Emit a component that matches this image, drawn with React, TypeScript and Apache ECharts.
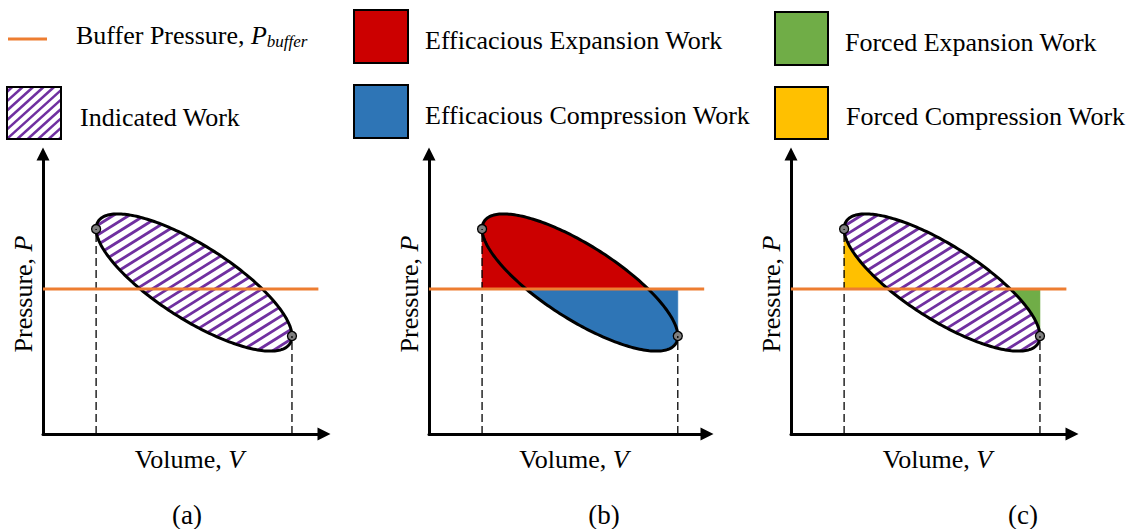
import React, { useEffect, useRef } from 'react';
import * as echarts from 'echarts';

const FONT = '"Liberation Serif", "Times New Roman", Times, serif';
const FS = 26;

// ---------- values (schematic units) ----------
const panelLabels = ['(a)', '(b)', '(c)'];
const volumeAxisMax = [10, 9.9, 10];
const pressureAxisMax = 10;
const volumeRange = [1.89, 8.86]; // V at the two marked state points
const pressureRange = [2.96, 7.86]; // lowest / highest pressure on the loop
const pressureAtVolumeEnds = [7.39, 3.57]; // P at Vmin and at Vmax
const bufferPressure = 5.18;
const bufferLineVolume = [0, 9.8];
const panelFills: string[][] = [[], ['efficaciousExpansion', 'efficaciousCompression'], ['forcedCompression', 'forcedExpansion']];
const panelHatched = [true, false, true];

const legendNames = [
  'Buffer Pressure, ',
  'Indicated Work',
  'Efficacious Expansion Work',
  'Efficacious Compression Work',
  'Forced Expansion Work',
  'Forced Compression Work',
];

const COLORS: Record<string, string> = {
  buffer: '#ED7D31',
  hatch: '#7030A0',
  efficaciousExpansion: '#CC0000',
  efficaciousCompression: '#2E75B6',
  forcedExpansion: '#70AD47',
  forcedCompression: '#FFC000',
  dot: '#7F7F7F',
};

// ---------- layout ----------
const GRID_LEFT = [43, 429, 791];
const GRID_W = [281, 278, 281];
const GRID_TOP = 154;
const GRID_H = 280;
const LABEL_X = [187, 604, 1023];
const LABEL_Y = 515;

// ---------- loop geometry (ellipse through the read extremes) ----------
const Vm = (volumeRange[0] + volumeRange[1]) / 2;
const Va = (volumeRange[1] - volumeRange[0]) / 2;
const Pm = (pressureRange[0] + pressureRange[1]) / 2;
const Pa = (pressureRange[1] - pressureRange[0]) / 2;
const cosPhi = Math.max(-1, Math.min(1, -((pressureAtVolumeEnds[0] - pressureAtVolumeEnds[1]) / 2) / Pa));
const phi = Math.acos(cosPhi);
const loopPoint = (t: number) => [Vm + Va * Math.cos(t), Pm + Pa * Math.cos(t + phi)];
const N = 240;
const loop: number[][] = [];
for (let i = 0; i < N; i++) loop.push(loopPoint((2 * Math.PI * i) / N));
const upperBranch: number[][] = [];
const lowerBranch: number[][] = [];
for (let i = 0; i <= N; i++) {
  upperBranch.push(loopPoint(Math.PI + (Math.PI * i) / N));
  lowerBranch.push(loopPoint((Math.PI * i) / N));
}
const dotMin = loopPoint(Math.PI);
const dotMax = loopPoint(0);

function regionBetween(branch: number[][], above: boolean) {
  const pts = branch.map(([v, p]) => [v, above ? Math.max(p, bufferPressure) : Math.min(p, bufferPressure)]);
  const first = branch[0];
  const last = branch[branch.length - 1];
  pts.push([last[0], bufferPressure], [first[0], bufferPressure]);
  return pts;
}
const regions: Record<string, number[][]> = {
  efficaciousExpansion: regionBetween(upperBranch, true),
  efficaciousCompression: regionBetween(lowerBranch, false),
  forcedCompression: regionBetween(lowerBranch, true),
  forcedExpansion: regionBetween(upperBranch, false),
};

// hatch lines clipped to a convex polygon (pixel space)
function hatch(poly: number[][], angleDeg: number, spacing: number) {
  const a = (angleDeg * Math.PI) / 180;
  const d = [Math.cos(a), -Math.sin(a)];
  const n = [Math.sin(a), Math.cos(a)];
  let minC = Infinity;
  let maxC = -Infinity;
  poly.forEach((p) => {
    const c = p[0] * n[0] + p[1] * n[1];
    minC = Math.min(minC, c);
    maxC = Math.max(maxC, c);
  });
  const segs: number[][] = [];
  for (let c = minC + spacing / 2; c < maxC; c += spacing) {
    const ss: number[] = [];
    for (let i = 0; i < poly.length; i++) {
      const p = poly[i];
      const q = poly[(i + 1) % poly.length];
      const cp = p[0] * n[0] + p[1] * n[1] - c;
      const cq = q[0] * n[0] + q[1] * n[1] - c;
      if ((cp <= 0 && cq > 0) || (cp > 0 && cq <= 0)) {
        const f = cp / (cp - cq);
        const x = p[0] + f * (q[0] - p[0]);
        const y = p[1] + f * (q[1] - p[1]);
        ss.push(x * d[0] + y * d[1]);
      }
    }
    if (ss.length >= 2) {
      const s0 = Math.min(...ss);
      const s1 = Math.max(...ss);
      segs.push([c * n[0] + s0 * d[0], c * n[1] + s0 * d[1], c * n[0] + s1 * d[0], c * n[1] + s1 * d[1]]);
    }
  }
  return segs;
}

function textEl(x: number, y: number, text: string, align: string, extra: any = {}, size: number = FS) {
  return {
    type: 'text',
    x,
    y,
    silent: true,
    style: {
      text,
      fill: '#000',
      font: `${size}px ${FONT}`,
      textAlign: align,
      textVerticalAlign: 'middle',
      align,
      verticalAlign: 'middle',
      ...extra,
    },
  };
}

function buildOption() {
  const grid = GRID_LEFT.map((l, i) => ({ left: l, top: GRID_TOP, width: GRID_W[i], height: GRID_H }));
  const nameStyle = (pad: number[]) => ({
    color: '#000',
    fontFamily: FONT,
    fontSize: FS,
    padding: pad,
    rich: { i: { fontStyle: 'italic', fontFamily: FONT, fontSize: FS, color: '#000' } },
  });
  const axisLine = {
    show: true,
    onZero: false,
    symbol: ['none', 'triangle'],
    symbolSize: [13, 13],
    lineStyle: { color: '#000', width: 3 },
  };
  const xAxis = GRID_LEFT.map((_, i) => ({
    gridIndex: i,
    type: 'value',
    min: 0,
    max: volumeAxisMax[i],
    axisLine,
    axisTick: { show: false },
    axisLabel: { show: false },
    splitLine: { show: false },
    name: 'Volume, {i|V}',
    nameLocation: 'middle',
    nameGap: 12,
    nameTextStyle: nameStyle([0, 0, 0, 12]),
  }));
  const yAxis = GRID_LEFT.map((_, i) => ({
    gridIndex: i,
    type: 'value',
    min: 0,
    max: pressureAxisMax,
    axisLine,
    axisTick: { show: false },
    axisLabel: { show: false },
    splitLine: { show: false },
    name: 'Pressure, {i|P}',
    nameLocation: 'middle',
    nameGap: 7,
    nameTextStyle: nameStyle([0, 0, 0, 0]),
  }));

  const series: any[] = [];
  GRID_LEFT.forEach((_, i) => {
    const ax = { xAxisIndex: i, yAxisIndex: i };
    if (panelFills[i].length) {
      series.push({
        type: 'custom',
        ...ax,
        silent: true,
        data: [[0, 0]],
        renderItem: (_p: any, api: any) => ({
          type: 'group',
          children: panelFills[i].map((k) => ({
            type: 'polygon',
            shape: { points: regions[k].map((pt) => api.coord(pt)) },
            style: { fill: COLORS[k], stroke: COLORS[k], lineWidth: 0.6 },
          })),
        }),
      });
    }
    // dashed guides
    [dotMin, dotMax].forEach((pt) => {
      series.push({
        type: 'line',
        ...ax,
        silent: true,
        symbol: 'none',
        data: [[pt[0], 0], [pt[0], pt[1]]],
        lineStyle: { color: '#000', width: 1.3, type: [8, 4] },
      });
    });
    // loop (hatch + outline)
    series.push({
      type: 'custom',
      ...ax,
      silent: true,
      data: [[0, 0]],
      renderItem: (_p: any, api: any) => {
        const poly = loop.map((pt) => api.coord(pt));
        const children: any[] = [];
        if (panelHatched[i]) {
          hatch(poly, 32, 8.3).forEach((s) =>
            children.push({
              type: 'line',
              shape: { x1: s[0], y1: s[1], x2: s[2], y2: s[3] },
              style: { stroke: COLORS.hatch, lineWidth: 2.8 },
            })
          );
        }
        children.push({
          type: 'polygon',
          shape: { points: poly },
          style: { fill: 'none', stroke: '#000', lineWidth: 3 },
        });
        return { type: 'group', children };
      },
    });
    // buffer pressure
    series.push({
      type: 'line',
      ...ax,
      silent: true,
      symbol: 'none',
      data: bufferLineVolume.map((v) => [v, bufferPressure]),
      lineStyle: { color: COLORS.buffer, width: 3 },
    });
    // state points
    series.push({
      type: 'scatter',
      ...ax,
      silent: true,
      symbolSize: 9,
      data: [dotMin, dotMax],
      itemStyle: { color: COLORS.dot, borderColor: '#000', borderWidth: 1.3, opacity: 1 },
    });
  });

  // legend graphics
  const g: any[] = [];
  g.push({ type: 'line', shape: { x1: 8, y1: 39, x2: 47, y2: 39 }, style: { stroke: COLORS.buffer, lineWidth: 3 } });
  const hb = { x: 7, y: 87, w: 54, h: 52 };
  hatch(
    [
      [hb.x, hb.y],
      [hb.x + hb.w, hb.y],
      [hb.x + hb.w, hb.y + hb.h],
      [hb.x, hb.y + hb.h],
    ],
    42,
    7
  ).forEach((s) =>
    g.push({ type: 'line', shape: { x1: s[0], y1: s[1], x2: s[2], y2: s[3] }, style: { stroke: COLORS.hatch, lineWidth: 2.5 } })
  );
  g.push({ type: 'rect', shape: { x: hb.x, y: hb.y, width: hb.w, height: hb.h }, style: { fill: 'none', stroke: '#000', lineWidth: 2 } });
  const boxes = [
    { k: 'efficaciousExpansion', x: 354, y: 10, w: 54, h: 53 },
    { k: 'efficaciousCompression', x: 354, y: 85, w: 54, h: 53 },
    { k: 'forcedExpansion', x: 775, y: 12, w: 53, h: 53 },
    { k: 'forcedCompression', x: 775, y: 87, w: 53, h: 52 },
  ];
  boxes.forEach((b) =>
    g.push({ type: 'rect', shape: { x: b.x, y: b.y, width: b.w, height: b.h }, style: { fill: COLORS[b.k], stroke: '#000', lineWidth: 2 } })
  );
  g.push(
    textEl(76, 35, legendNames[0] + '{p|P}{s|buffer}', 'left', {
      lineHeight: 30,
      rich: {
        p: { fontStyle: 'italic', fontFamily: FONT, fontSize: FS, fill: '#000', color: '#000' },
        s: { fontStyle: 'italic', fontFamily: FONT, fontSize: 17, lineHeight: 16, verticalAlign: 'bottom', fill: '#000', color: '#000' },
      },
    })
  );
  g.push(textEl(80, 117, legendNames[1], 'left'));
  g.push(textEl(425, 40, legendNames[2], 'left'));
  g.push(textEl(425, 115, legendNames[3], 'left'));
  g.push(textEl(845, 42, legendNames[4], 'left'));
  g.push(textEl(846, 116, legendNames[5], 'left'));
  panelLabels.forEach((t, i) => g.push(textEl(LABEL_X[i], LABEL_Y, t, 'center', {}, 27)));

  return {
    animation: false,
    backgroundColor: '#fff',
    grid,
    xAxis,
    yAxis,
    series,
    graphic: { elements: g },
  };
}

export default function App() {
  const ref = useRef<HTMLDivElement>(null);
  useEffect(() => {
    const chart = echarts.init(ref.current as HTMLDivElement, null, { renderer: 'svg' });
    chart.setOption(buildOption() as any);
    return () => chart.dispose();
  }, []);
  return (
    <div
      ref={ref}
      style={{ position: 'absolute', left: 0, top: 0, width: 1138, height: 529, background: '#fff' }}
    />
  );
}
